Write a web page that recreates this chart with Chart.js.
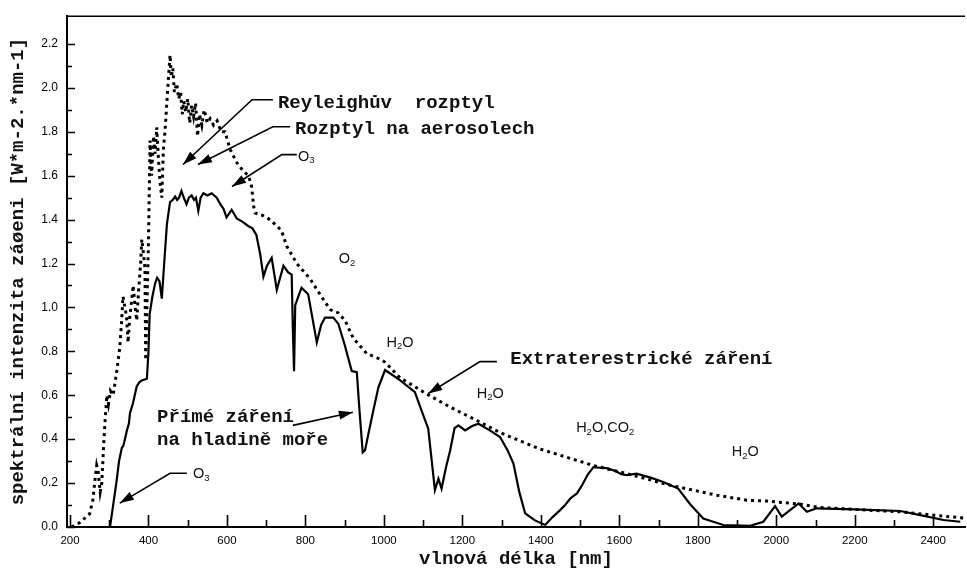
<!DOCTYPE html>
<html><head><meta charset="utf-8">
<script src="https://cdn.jsdelivr.net/npm/chart.js@4.4.0/dist/chart.umd.min.js"></script>
<style>html,body{margin:0;padding:0;background:#fff;}</style>
</head><body>
<canvas id="c" width="967" height="574"></canvas>
<script>
// ---- data ----
const seriesNames = ['Extraterestrické záření', 'Přímé záření na hladině moře'];

const extraNm = [204,225,250,258,264,268,272,277,281,286,290,294,298,303,310,315,320,327,332,335,340,344,348,352,357,361,366,370,375,380,383,387,391,393,396,400,404,408,413,417,421,425,429,434,438,442,446,451,455,458,462,466,472,477,482,486,490,495,500,505,510,515,520,525,530,536,542,550,557,566,575,585,595,608,625,642,655,663,668,672,690,710,739,752,778,812,837,863,884,901,922,956,990,1003,1041,1109,1169,1237,1296,1398,1534,1619,1730,1848,1925,1976,2061,2112,2231,2316,2401,2481];
const extraVal = [0,0.02,0.06,0.12,0.22,0.28,0.25,0.16,0.2,0.38,0.5,0.6,0.56,0.62,0.6,0.66,0.72,0.82,0.95,1.05,1.0,0.96,0.84,0.95,1.03,1.1,1.0,0.94,1.08,1.2,1.31,1.25,1.18,0.76,1.0,1.3,1.76,1.6,1.78,1.7,1.82,1.69,1.58,1.5,1.72,1.8,1.91,2.05,2.15,2.05,2.09,1.98,2.02,1.95,1.98,1.88,1.94,1.89,1.95,1.84,1.92,1.87,1.93,1.78,1.88,1.83,1.9,1.84,1.86,1.83,1.85,1.8,1.8,1.72,1.66,1.62,1.6,1.55,1.46,1.43,1.42,1.4,1.35,1.28,1.2,1.13,1.06,0.99,0.975,0.94,0.86,0.79,0.765,0.75,0.68,0.606,0.546,0.485,0.43,0.355,0.28,0.243,0.19,0.145,0.122,0.118,0.104,0.089,0.077,0.069,0.054,0.04];

const directNm = [302,310,318,325,332,336,340,345,350,353,360,365,370,377,383,396,400,403,410,417,422,428,434,440,447,455,462,468,473,478,484,490,497,503,510,516,521,527,533,540,550,561,574,583,591,599,612,625,640,655,665,675,685,693,702,714,727,744,756,765,768,771,774,790,807,818,829,840,850,871,884,900,918,931,937,946,952,960,973,986,1003,1040,1079,1096,1113,1122,1130,1139,1147,1158,1169,1180,1190,1207,1225,1241,1270,1296,1315,1330,1345,1360,1385,1411,1430,1449,1462,1475,1492,1505,1520,1534,1550,1568,1590,1605,1619,1644,1680,1712,1750,1780,1814,1865,1933,1967,1997,2014,2057,2078,2103,2200,2316,2367,2426,2469];
const directVal = [0,0.1,0.2,0.3,0.36,0.37,0.4,0.44,0.47,0.52,0.56,0.6,0.64,0.66,0.667,0.675,0.8,0.97,1.05,1.11,1.135,1.12,1.04,1.2,1.38,1.48,1.49,1.505,1.49,1.5,1.53,1.5,1.47,1.5,1.51,1.49,1.5,1.44,1.5,1.52,1.51,1.52,1.5,1.47,1.45,1.41,1.445,1.405,1.39,1.37,1.36,1.33,1.24,1.14,1.19,1.226,1.08,1.19,1.16,1.15,0.9,0.71,1.01,1.09,1.06,0.95,0.84,0.92,0.954,0.954,0.925,0.83,0.71,0.705,0.55,0.34,0.35,0.42,0.53,0.636,0.715,0.67,0.614,0.53,0.448,0.3,0.168,0.22,0.175,0.27,0.35,0.45,0.463,0.44,0.46,0.47,0.44,0.41,0.35,0.29,0.16,0.062,0.03,0.009,0.045,0.077,0.1,0.13,0.153,0.19,0.24,0.273,0.27,0.268,0.255,0.24,0.236,0.243,0.225,0.205,0.175,0.105,0.039,0.009,0.005,0.024,0.095,0.047,0.107,0.069,0.085,0.08,0.073,0.054,0.032,0.024];

const xTickValues = [200,400,600,800,1000,1200,1400,1600,1800,2000,2200,2400];
const xMinorValues = [300,500,700,900,1100,1300,1500,1700,1900,2100,2300];
const yTickValues = [0,0.2,0.4,0.6,0.8,1.0,1.2,1.4,1.6,1.8,2.0,2.2];
const yMinorValues = [0.1,0.3,0.5,0.7,0.9,1.1,1.3,1.5,1.7,1.9,2.1];

const xTitle = 'vlnová délka [nm]';
const yTitle = 'spektrální intenzita záøeni [W*m-2.*nm-1]';

// ---- annotations (in data coordinates) ----
const MONO = 'bold 19px "Liberation Mono", "Courier New", monospace';
const SANS = '14.5px "Liberation Sans", Arial, sans-serif';
const SANS_SUB = '9.5px "Liberation Sans", Arial, sans-serif';
const textNotes = [
  {t:'Reyleighův  rozptyl', at:[730,1.932]},
  {t:'Rozptyl na aerosolech', at:[773.5,1.814]},
  {t:'Extraterestrické záření', at:[1322,0.762]},
  {t:'Přímé záření', at:[422,0.499]},
  {t:'na hladině moře', at:[422,0.395]}
];
const chemNotes = [
  {t:'O_3', at:[781,1.687], align:'left'},
  {t:'O_3', at:[513.5,0.24], align:'left'},
  {t:'O_2', at:[906,1.22], align:'center'},
  {t:'H_2O', at:[1041,0.839], align:'center'},
  {t:'H_2O', at:[1271,0.608], align:'center'},
  {t:'H_2O,CO_2', at:[1564,0.449], align:'center'},
  {t:'H_2O', at:[1921,0.34], align:'center'}
];
const arrows = [
  [[717,1.946],[664,1.946],[488,1.651]],
  [[761,1.823],[717,1.823],[526,1.651]],
  [[778,1.696],[740,1.696],[613,1.551]],
  [[1288,0.753],[1245,0.753],[1113,0.608]],
  [[768,0.463],[921,0.523]],
  [[498,0.245],[455,0.245],[327,0.109]]
];

function zip(xs, ys){ return xs.map((v,i)=>({x:v, y:ys[i]})); }

function parseChem(s){
  const parts=[]; let i=0;
  while(i<s.length){
    if(s[i]==='_'){ parts.push({c:s[i+1], sub:true}); i+=2; }
    else { parts.push({c:s[i], sub:false}); i++; }
  }
  return parts;
}

const decor = {
  id:'decor',
  afterDatasetsDraw(chart){
    const {ctx, chartArea:a, scales:{x, y}} = chart;
    ctx.save();
    ctx.strokeStyle = '#000'; ctx.fillStyle = '#000';
    // top frame line
    ctx.lineWidth = 1.5;
    ctx.beginPath(); ctx.moveTo(a.left, a.top); ctx.lineTo(a.right, a.top); ctx.stroke();
    // inward ticks
    ctx.lineWidth = 1.6;
    ctx.beginPath();
    xTickValues.forEach(v=>{ const px = Math.round(x.getPixelForValue(v))+0.5; ctx.moveTo(px, a.bottom); ctx.lineTo(px, a.bottom-12); });
    xMinorValues.forEach(v=>{ const px = Math.round(x.getPixelForValue(v))+0.5; ctx.moveTo(px, a.bottom); ctx.lineTo(px, a.bottom-7); });
    yTickValues.forEach(v=>{ const py = Math.round(y.getPixelForValue(v))+0.5; ctx.moveTo(a.left, py); ctx.lineTo(a.left+8, py); });
    yMinorValues.forEach(v=>{ const py = Math.round(y.getPixelForValue(v))+0.5; ctx.moveTo(a.left, py); ctx.lineTo(a.left+5, py); });
    ctx.stroke();

    // arrows
    ctx.lineWidth = 1.6;
    arrows.forEach(pts=>{
      const p = pts.map(q=>[x.getPixelForValue(q[0]), y.getPixelForValue(q[1])]);
      ctx.beginPath(); ctx.moveTo(p[0][0], p[0][1]);
      for(let i=1;i<p.length;i++) ctx.lineTo(p[i][0], p[i][1]);
      ctx.stroke();
      const tip = p[p.length-1], prev = p[p.length-2];
      const ang = Math.atan2(tip[1]-prev[1], tip[0]-prev[0]);
      const L = 14, W = 4.5;
      ctx.beginPath();
      ctx.moveTo(tip[0], tip[1]);
      ctx.lineTo(tip[0]-L*Math.cos(ang)+W*Math.sin(ang), tip[1]-L*Math.sin(ang)-W*Math.cos(ang));
      ctx.lineTo(tip[0]-L*Math.cos(ang)-W*Math.sin(ang), tip[1]-L*Math.sin(ang)+W*Math.cos(ang));
      ctx.closePath(); ctx.fill();
    });

    // monospace notes
    ctx.font = MONO; ctx.textBaseline = 'middle'; ctx.textAlign = 'left'; ctx.fillStyle = '#111';
    textNotes.forEach(n=>{ ctx.fillText(n.t, x.getPixelForValue(n.at[0]), y.getPixelForValue(n.at[1])); });

    // chemical formula labels
    chemNotes.forEach(n=>{
      const parts = parseChem(n.t);
      let w = 0;
      parts.forEach(p=>{ ctx.font = p.sub?SANS_SUB:SANS; w += ctx.measureText(p.c).width; });
      let px = x.getPixelForValue(n.at[0]);
      if(n.align==='center') px -= w/2;
      const py = y.getPixelForValue(n.at[1]);
      ctx.textAlign = 'left';
      parts.forEach(p=>{
        ctx.font = p.sub?SANS_SUB:SANS;
        ctx.fillText(p.c, px, p.sub ? py+4 : py);
        px += ctx.measureText(p.c).width;
      });
    });
    ctx.restore();
  }
};

new Chart(document.getElementById('c'), {
  type:'line',
  data:{
    datasets:[
      { label:seriesNames[0], data:zip(extraNm, extraVal), borderColor:'#000', borderWidth:3,
        borderDash:[3,4], borderCapStyle:'butt', pointRadius:0, tension:0, fill:false },
      { label:seriesNames[1], data:zip(directNm, directVal), borderColor:'#000', borderWidth:2.2,
        pointRadius:0, tension:0, fill:false, borderJoinStyle:'miter' }
    ]
  },
  options:{
    responsive:false, animation:false, devicePixelRatio:1,
    layout:{ padding:{ top:14, right:2, left:0, bottom:0 } },
    plugins:{ legend:{display:false}, tooltip:{enabled:false} },
    scales:{
      x:{
        type:'linear', min:192.35, max:2481,
        afterBuildTicks(s){ s.ticks = xTickValues.map(v=>({value:v})); },
        afterFit(s){ s.height = 47; },
        grid:{ display:false, drawTicks:false },
        border:{ display:true, color:'#000', width:2 },
        ticks:{ autoSkip:false, maxRotation:0, padding:7, color:'#000',
          font:{ family:'"Liberation Sans", Arial, sans-serif', size:11.5 },
          callback:(v)=>String(v) },
        title:{ display:true, text:xTitle, color:'#111', padding:{top:0, bottom:3},
          font:{ family:'"Liberation Mono", "Courier New", monospace', size:19, weight:'bold' } }
      },
      y:{
        type:'linear', min:0, max:2.3265,
        afterBuildTicks(s){ s.ticks = yTickValues.map(v=>({value:v})); },
        afterFit(s){ s.width = 67; },
        grid:{ display:false, drawTicks:false },
        border:{ display:true, color:'#000', width:2 },
        ticks:{ autoSkip:false, padding:9, color:'#000',
          font:{ family:'"Liberation Sans", Arial, sans-serif', size:12 },
          callback:(v)=>Number(v).toFixed(1) },
        title:{ display:true, text:yTitle, color:'#111', padding:{top:7, bottom:0},
          font:{ family:'"Liberation Mono", "Courier New", monospace', size:19, weight:'bold' } }
      }
    }
  },
  plugins:[decor]
});
</script>
</body></html>
